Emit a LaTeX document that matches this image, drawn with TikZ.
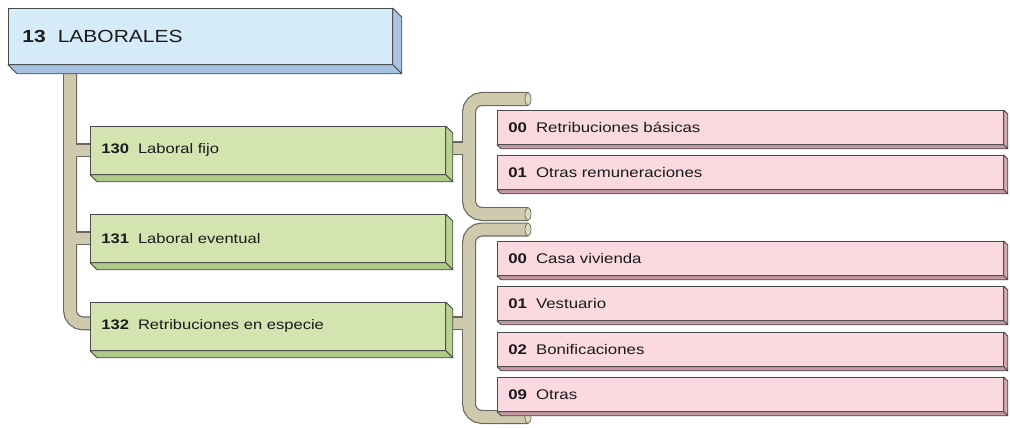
\documentclass[tikz,border=0pt]{standalone}
\usepackage{fontspec}
\setmainfont{Liberation Sans}
\newfontfamily\wide[FakeStretch=1.2]{Liberation Sans}
\usetikzlibrary{calc,backgrounds}
\definecolor{edge}{HTML}{4A4A4A}
\definecolor{txt}{HTML}{1A1A1A}
\definecolor{bluefront}{HTML}{D6EBF8}
\definecolor{blueside}{HTML}{A8C3E2}
\definecolor{greenfront}{HTML}{D3E4B1}
\definecolor{greenside}{HTML}{B8D292}
\definecolor{greenbot}{HTML}{AECA88}
\definecolor{pinkfront}{HTML}{FAD9E0}
\definecolor{pinkside}{HTML}{D6AAB3}
\definecolor{pinkbot}{HTML}{C799A3}
\definecolor{pipeedge}{HTML}{6A685C}
\definecolor{pipefill}{HTML}{CFCAAE}
\definecolor{pipecap}{HTML}{DEDAC2}
\tikzset{
  face/.style={draw=edge, line width=0.8pt, line join=round},
  cubebox/.style={face, rectangle, anchor=north west, align=left, text=txt},
  bluebox/.style={cubebox, fill=bluefront, minimum height=56pt, text width=356pt, inner xsep=14pt, font={\wide\fontsize{17.5}{20}\selectfont}},
  greenbox/.style={cubebox, fill=greenfront, minimum height=48pt, text width=333pt, inner xsep=11pt, font={\wide\fontsize{13.8}{16}\selectfont}},
  pinkbox/.style={cubebox, fill=pinkfront, minimum height=34pt, text width=484pt, inner xsep=11pt, font={\wide\fontsize{14}{16}\selectfont}},
  pipeout/.style={draw=pipeedge, line width=14pt, rounded corners=13pt},
  pipein/.style={draw=pipefill, line width=11.6pt, rounded corners=13pt},
  pipeend/.style={draw=pipeedge, fill=pipecap, line width=0.7pt},
}
\newcommand\cubesides[4]{%
  \filldraw[face, fill=#3] (#1.north east) -- ++(#2,#2) -- ($(#1.south east)+(#2,#2)$) -- (#1.south east) -- cycle;
  \filldraw[face, fill=#4] (#1.south west) -- (#1.south east) -- ($(#1.south east)+(#2,#2)$) -- ($(#1.south west)+(#2,#2)$) -- cycle;
}
\begin{document}
\begin{tikzpicture}[x=1pt,y=-1pt]
\useasboundingbox (0,0) rectangle (1010,428);
% boxes
\node[bluebox] (top) at (8,8) {\textbf{13}\hspace{12pt}LABORALES};
\cubesides{top}{9}{blueside}{blueside}
\node[greenbox] (b130) at (90,126) {\textbf{130}\hspace{9pt}Laboral fijo};
\cubesides{b130}{7}{greenside}{greenbot}
\node[greenbox] (b131) at (90,214) {\textbf{131}\hspace{9pt}Laboral eventual};
\cubesides{b131}{7}{greenside}{greenbot}
\node[greenbox] (b132) at (90,302) {\textbf{132}\hspace{9pt}Retribuciones en especie};
\cubesides{b132}{7}{greenside}{greenbot}
\node[pinkbox] (p1) at (497,110) {\textbf{00}\hspace{9pt}Retribuciones básicas};
\cubesides{p1}{4}{pinkside}{pinkbot}
\node[pinkbox] (p2) at (497,155) {\textbf{01}\hspace{9pt}Otras remuneraciones};
\cubesides{p2}{4}{pinkside}{pinkbot}
\node[pinkbox] (q1) at (497,241) {\textbf{00}\hspace{9pt}Casa vivienda};
\cubesides{q1}{4}{pinkside}{pinkbot}
\node[pinkbox] (q2) at (497,286) {\textbf{01}\hspace{9pt}Vestuario};
\cubesides{q2}{4}{pinkside}{pinkbot}
\node[pinkbox] (q3) at (497,332) {\textbf{02}\hspace{9pt}Bonificaciones};
\cubesides{q3}{4}{pinkside}{pinkbot}
\node[pinkbox] (q4) at (497,377) {\textbf{09}\hspace{9pt}Otras};
\cubesides{q4}{4}{pinkside}{pinkbot}
% connector points
\coordinate (tr) at (70,60);
\coordinate (k1) at (469,0);
\coordinate (e1t) at (528,99);
\coordinate (e1b) at (528,214);
\coordinate (e2t) at (528,229.5);
\coordinate (e2b) at (528,417);
\begin{pgfonlayer}{background}
  \draw[pipeout] (tr) |- ([yshift=3pt]b132.west);
  \draw[pipeout] (tr |- b130.west) -- (b130.west);
  \draw[pipeout] (tr |- b131.west) -- (b131.west);
  \draw[pipeout] (e1t) -- (e1t -| k1) -- (e1b -| k1) -- (e1b);
  \draw[pipeout] ([yshift=2pt]b130.east) -- ([yshift=2pt]k1 |- b130.east);
  \draw[pipeout] (e2t) -- (e2t -| k1) -- (e2b -| k1) -- (e2b);
  \draw[pipeout] ([yshift=3pt]b132.east) -- ([yshift=3pt]k1 |- b132.east);
  \draw[pipein] (tr) |- ([yshift=3pt]b132.west);
  \draw[pipein] (tr |- b130.west) -- (b130.west);
  \draw[pipein] (tr |- b131.west) -- (b131.west);
  \draw[pipein] (e1t) -- (e1t -| k1) -- (e1b -| k1) -- (e1b);
  \draw[pipein] ([yshift=2pt]b130.east) -- ([yshift=2pt]k1 |- b130.east);
  \draw[pipein] (e2t) -- (e2t -| k1) -- (e2b -| k1) -- (e2b);
  \draw[pipein] ([yshift=3pt]b132.east) -- ([yshift=3pt]k1 |- b132.east);
  \draw[pipeend] (e1t) ellipse [x radius=3, y radius=6.5];
  \draw[pipeend] (e1b) ellipse [x radius=3, y radius=6.5];
  \draw[pipeend] (e2t) ellipse [x radius=3, y radius=6.5];
  \draw[pipeend] (e2b) ellipse [x radius=3, y radius=6.5];
\end{pgfonlayer}
\end{tikzpicture}
\end{document}
